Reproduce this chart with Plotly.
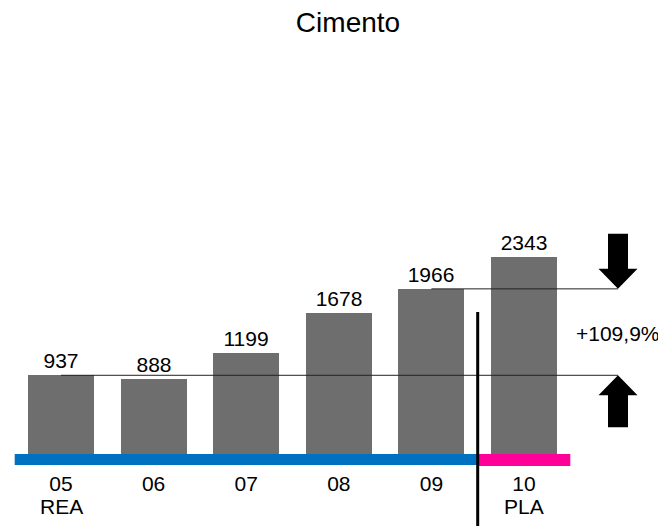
import plotly.graph_objects as go

# ---- data ----
categories = ["05", "06", "07", "08", "09", "10"]
phase_labels = ["REA", "", "", "", "", "PLA"]
values = [937, 888, 1199, 1678, 1966, 2343]
title_text = "Cimento"
growth_label = "+109,9%"
real_color = "#0070c0"
plan_color = "#ff0099"
bar_color = "#6e6e6e"

# ---- geometry (pixel calibration, in window pixels) ----
WIN_W, WIN_H = 666, 526
OFF = 8  # default page body margin
W, H = WIN_W - OFF, WIN_H - OFF
PX_PER_CAT = 92.6
FIRST_CENTER_PX = 61 - OFF
BASE_PX = 454 - OFF
PX_PER_UNIT = 0.0840
PLOT_BOTTOM_PX = 466 - OFF
FONT = "Liberation Sans, Arial, Helvetica, sans-serif"


def dx(px):
    return px / PX_PER_CAT


def dy(px):
    return px / PX_PER_UNIT


x = list(range(len(categories)))
x_range = [-dx(FIRST_CENTER_PX), dx(W - FIRST_CENTER_PX)]
y_range = [-dy(PLOT_BOTTOM_PX - BASE_PX), dy(BASE_PX)]
plot_h = PLOT_BOTTOM_PX

fig = go.Figure()
fig.add_trace(go.Bar(
    x=x, y=values, width=dx(66), marker=dict(color=bar_color, line=dict(width=0)),
    text=[str(v) for v in values], textposition="outside",
    textfont=dict(size=21, color="black", family=FONT),
    cliponaxis=False, hoverinfo="skip", showlegend=False,
))

n_real = len(categories) - 1
split_x = n_real - 0.5
arrow_x = dx(618 - 61)

shapes = []
# colour strips under the bars
shapes.append(dict(type="rect", xref="x", yref="y", x0=-0.5, x1=split_x,
                   y0=-dy(11), y1=0, fillcolor=real_color, line=dict(width=0), layer="below"))
shapes.append(dict(type="rect", xref="x", yref="y", x0=split_x, x1=len(categories) - 0.5,
                   y0=-dy(12), y1=0, fillcolor=plan_color, line=dict(width=0), layer="below"))
# reference lines
v_first, v_last_real = values[0], values[n_real - 1]
shapes.append(dict(type="line", xref="x", yref="y", x0=0, x1=arrow_x, y0=v_first, y1=v_first,
                   line=dict(color="#222222", width=1)))
shapes.append(dict(type="line", xref="x", yref="y", x0=n_real - 1, x1=arrow_x,
                   y0=v_last_real, y1=v_last_real, line=dict(color="#222222", width=1)))
# separator between real and plan
sep_px = FIRST_CENTER_PX + split_x * PX_PER_CAT
shapes.append(dict(type="line", xref="paper", yref="paper",
                   x0=sep_px / W, x1=sep_px / W,
                   y0=(plot_h - (312 - OFF)) / plot_h, y1=(plot_h - H) / plot_h,
                   line=dict(color="black", width=3)))

# arrows (filled polygons)
hw, sw, hl = dx(19.5), dx(10), dy(20)


def arrow(tip_y, direction, length):
    # direction -1: pointing down (body above tip); +1: pointing up (body below tip)
    s = -direction
    xs = [arrow_x, arrow_x - hw, arrow_x - sw, arrow_x - sw, arrow_x + sw, arrow_x + sw, arrow_x + hw, arrow_x]
    ys = [tip_y, tip_y + s * hl, tip_y + s * hl, tip_y + s * length, tip_y + s * length,
          tip_y + s * hl, tip_y + s * hl, tip_y]
    return go.Scatter(x=xs, y=ys, mode="lines", fill="toself", fillcolor="black",
                      line=dict(width=0, color="black"), hoverinfo="skip", showlegend=False)


fig.add_trace(arrow(v_last_real, -1, dy(55)))
fig.add_trace(arrow(v_first, 1, dy(52)))

annotations = [
    dict(x=arrow_x, y=(v_first + v_last_real) / 2 - dy(1), xref="x", yref="y", text=growth_label,
         showarrow=False, font=dict(size=21, color="black", family=FONT), xanchor="center", yanchor="middle"),
]
for xi, lab in zip(x, phase_labels):
    if lab:
        annotations.append(dict(x=xi, y=(plot_h - (507 - OFF)) / plot_h, xref="x", yref="paper", text=lab,
                                showarrow=False, font=dict(size=21, color="black", family=FONT),
                                xanchor="center", yanchor="middle"))

fig.update_layout(
    width=W, height=H,
    margin=dict(l=0, r=0, t=0, b=H - PLOT_BOTTOM_PX),
    paper_bgcolor="white", plot_bgcolor="white",
    title=dict(text=title_text, x=(348 - OFF) / W, xanchor="center", y=1 - (22 - OFF) / H, yanchor="middle",
               yref="container", font=dict(size=28, color="black", family=FONT)),
    xaxis=dict(range=x_range, tickmode="array", tickvals=x, ticktext=categories,
               showgrid=False, zeroline=False, showline=False, ticks="", automargin=False,
               ticklabelstandoff=3,
               tickfont=dict(size=21, color="black", family=FONT), fixedrange=True),
    yaxis=dict(range=y_range, visible=False, showgrid=False, zeroline=False, fixedrange=True),
    shapes=shapes, annotations=annotations, bargap=0, showlegend=False,
)

fig.write_html("out.html")
